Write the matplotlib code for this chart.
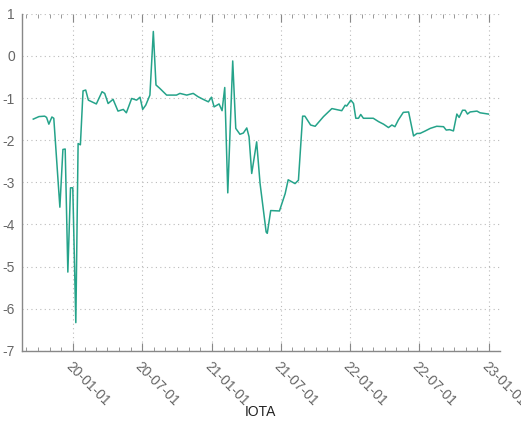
#!/usr/bin/env python3
# IOTA line chart (gnuplot-like look)

import matplotlib
matplotlib.use("Agg")
import matplotlib.pyplot as plt
import matplotlib.dates as mdates
import numpy as np

dates = [
    "2019-09-19", "2019-10-04", "2019-10-19", "2019-10-24", "2019-10-30",
    "2019-11-07", "2019-11-12", "2019-11-28", "2019-12-06", "2019-12-12",
    "2019-12-19", "2019-12-26", "2020-01-01", "2020-01-09", "2020-01-15",
    "2020-01-21", "2020-01-28", "2020-02-04", "2020-02-11", "2020-03-03",
    "2020-03-18", "2020-03-25", "2020-04-03", "2020-04-16", "2020-04-29",
    "2020-05-13", "2020-05-21", "2020-06-04", "2020-06-17", "2020-06-26",
    "2020-07-03", "2020-07-11", "2020-07-22", "2020-07-31", "2020-08-07",
    "2020-08-17", "2020-09-04", "2020-09-30", "2020-10-09", "2020-10-27",
    "2020-11-13", "2020-11-26", "2020-12-09", "2020-12-23", "2020-12-31",
    "2021-01-07", "2021-01-20", "2021-01-28", "2021-02-04", "2021-02-12",
    "2021-02-25", "2021-03-05", "2021-03-16", "2021-03-25", "2021-04-03",
    "2021-04-09", "2021-04-16", "2021-04-29", "2021-05-08", "2021-05-24",
    "2021-05-27", "2021-06-05", "2021-06-28", "2021-07-13", "2021-07-21",
    "2021-08-08", "2021-08-17", "2021-08-28", "2021-09-03", "2021-09-18",
    "2021-09-30", "2021-10-22", "2021-11-13", "2021-12-09", "2021-12-18",
    "2021-12-22", "2022-01-02", "2022-01-09", "2022-01-15", "2022-01-22",
    "2022-01-28", "2022-02-04", "2022-03-02", "2022-03-16", "2022-03-29",
    "2022-04-11", "2022-04-20", "2022-04-28", "2022-05-07", "2022-05-20",
    "2022-06-03", "2022-06-16", "2022-06-25", "2022-07-03", "2022-07-17",
    "2022-07-30", "2022-08-16", "2022-09-03", "2022-09-10", "2022-09-19",
    "2022-09-29", "2022-10-08", "2022-10-14", "2022-10-23", "2022-10-30",
    "2022-11-05", "2022-11-12", "2022-11-30", "2022-12-08", "2022-12-30",
]
values = [
    -1.50, -1.44, -1.43, -1.46, -1.62,
    -1.45, -1.48, -3.59, -2.22, -2.21,
    -5.13, -3.13, -3.13, -6.33, -2.08,
    -2.11, -0.83, -0.81, -1.05, -1.14,
    -0.85, -0.89, -1.13, -1.03, -1.31,
    -1.27, -1.35, -1.01, -1.05, -0.98,
    -1.27, -1.17, -0.93, 0.58, -0.69,
    -0.77, -0.93, -0.93, -0.89, -0.93,
    -0.89, -0.97, -1.03, -1.09, -0.98,
    -1.21, -1.14, -1.30, -0.75, -3.25,
    -0.12, -1.72, -1.86, -1.83, -1.71,
    -1.92, -2.79, -2.04, -3.03, -4.18,
    -4.21, -3.67, -3.68, -3.27, -2.94,
    -3.03, -2.95, -1.43, -1.43, -1.64,
    -1.67, -1.44, -1.25, -1.30, -1.17,
    -1.19, -1.05, -1.13, -1.48, -1.48,
    -1.39, -1.48, -1.48, -1.56, -1.62,
    -1.70, -1.64, -1.68, -1.52, -1.34,
    -1.33, -1.90, -1.84, -1.84, -1.78,
    -1.72, -1.67, -1.68, -1.76, -1.75,
    -1.78, -1.38, -1.46, -1.29, -1.29,
    -1.38, -1.33, -1.31, -1.35, -1.38,
]
title = "IOTA"

plt.rcParams["font.family"] = ["Liberation Sans", "DejaVu Sans"]
plt.rcParams["axes.unicode_minus"] = False

x = np.array(dates, dtype="datetime64[D]")
y = np.array(values)

fig = plt.figure(figsize=(5.21, 4.30), dpi=100)
ax = fig.add_axes([0.042, 0.184, 0.918, 0.784])

ax.plot(x, y, color="#25a38a", linewidth=1.1)

ax.set_xlim(np.datetime64("2019-08-20"), np.datetime64("2023-01-30"))
ax.set_ylim(-7, 1)
ax.set_yticks(range(-7, 2))

ax.xaxis.set_major_locator(mdates.MonthLocator(bymonth=[1, 7]))
ax.xaxis.set_minor_locator(mdates.MonthLocator())
ax.xaxis.set_major_formatter(mdates.DateFormatter("%y-%m-%d"))

for s in ["top", "right"]:
    ax.spines[s].set_visible(False)
for s in ["left", "bottom"]:
    ax.spines[s].set_color("#888888")
    ax.spines[s].set_linewidth(1.0)

ax.grid(True, which="major", color="#bbbbbb", linestyle=(0, (1, 3)), linewidth=0.8)
ax.tick_params(axis="x", which="major", direction="in", length=6, top=True,
               color="#888888", labelcolor="#666666", labelsize=10, pad=6)
ax.tick_params(axis="x", which="minor", direction="in", length=3, top=True,
               color="#888888")
ax.tick_params(axis="y", direction="in", length=0, color="#888888",
               labelcolor="#666666", labelsize=10, pad=5)

for lbl in ax.get_xticklabels():
    lbl.set_rotation(-45)
    lbl.set_ha("left")
    lbl.set_va("top")
    lbl.set_rotation_mode("anchor")

fig.text(0.5, 0.042, title, ha="center", va="center", fontsize=10, color="#222222")

fig.savefig("out.png", dpi=100)
